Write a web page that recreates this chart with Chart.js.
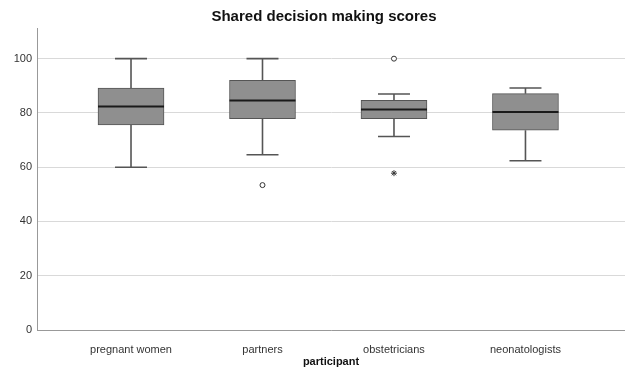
<!DOCTYPE html>
<html>
<head>
<meta charset="utf-8">
<script src="https://cdn.jsdelivr.net/npm/chart.js@4/dist/chart.umd.min.js"></script>
<style>
  html, body { margin: 0; padding: 0; background: #fff; }
  #wrap { width: 625px; height: 369px; }
</style>
</head>
<body>
<div id="wrap"><canvas id="boxChart"></canvas></div>
<script>
const chartTitle = 'Shared decision making scores';
const xTitle = 'participant';
const categories = ['pregnant women', 'partners', 'obstetricians', 'neonatologists'];
const whiskerLow = [60, 64.6, 71.3, 62.4];
const q1 = [75.6, 77.9, 77.9, 73.6];
const median = [82.4, 84.6, 81.3, 80.3];
const q3 = [89.2, 92, 84.6, 87.1];
const whiskerHigh = [100, 100, 87, 89.2];
// outliers: [category index, value]
const outliers = [[1, 53.4], [2, 100]];
const extremes = [[2, 57.8]];
const yTicks = [0, 20, 40, 60, 80, 100];

const FONT = '"Liberation Sans", Arial, sans-serif';

// whiskers, caps, medians and the title, drawn through the chart scales
const boxParts = {
    id: 'boxParts',
    beforeDatasetsDraw(chart) {
        const {ctx, scales: {x, y}} = chart;
        ctx.save();
        ctx.strokeStyle = '#555';
        ctx.lineWidth = 1.6;
        categories.forEach((c, i) => {
            const cx = x.getPixelForValue(i);
            ctx.beginPath();
            ctx.moveTo(cx, y.getPixelForValue(whiskerHigh[i]));
            ctx.lineTo(cx, y.getPixelForValue(q3[i]));
            ctx.moveTo(cx, y.getPixelForValue(q1[i]));
            ctx.lineTo(cx, y.getPixelForValue(whiskerLow[i]));
            ctx.moveTo(cx - 16, y.getPixelForValue(whiskerHigh[i]));
            ctx.lineTo(cx + 16, y.getPixelForValue(whiskerHigh[i]));
            ctx.moveTo(cx - 16, y.getPixelForValue(whiskerLow[i]));
            ctx.lineTo(cx + 16, y.getPixelForValue(whiskerLow[i]));
            ctx.stroke();
        });
        ctx.restore();
    },
    afterDatasetsDraw(chart) {
        const {ctx, scales: {x, y}, chartArea} = chart;
        ctx.save();
        ctx.strokeStyle = '#1a1a1a';
        ctx.lineWidth = 2;
        categories.forEach((c, i) => {
            const cx = x.getPixelForValue(i);
            const my = y.getPixelForValue(median[i]);
            ctx.beginPath();
            ctx.moveTo(cx - 33, my);
            ctx.lineTo(cx + 33, my);
            ctx.stroke();
        });
        ctx.fillStyle = '#111';
        ctx.font = 'bold 15px ' + FONT;
        ctx.textAlign = 'center';
        ctx.textBaseline = 'middle';
        ctx.fillText(chartTitle, (chartArea.left + chartArea.right) / 2 - 7, 17);
        ctx.restore();
    }
};

new Chart(document.getElementById('boxChart').getContext('2d'), {
    type: 'bar',
    data: {
        datasets: [
            {
                type: 'scatter',
                data: outliers.map(o => ({x: o[0], y: o[1]})),
                pointStyle: 'circle',
                radius: 2.5,
                backgroundColor: '#fff',
                borderColor: '#333',
                borderWidth: 1
            },
            {
                type: 'scatter',
                data: extremes.map(o => ({x: o[0], y: o[1]})),
                pointStyle: 'star',
                radius: 3,
                borderColor: '#333',
                borderWidth: 1
            },
            {
                type: 'bar',
                data: categories.map((c, i) => ({x: i, y: [q1[i], q3[i]]})),
                backgroundColor: '#8f8f8f',
                borderColor: '#555',
                borderWidth: 1,
                borderSkipped: false,
                barThickness: 66
            }
        ]
    },
    options: {
        responsive: true,
        maintainAspectRatio: false,
        animation: false,
        layout: { autoPadding: false, padding: { top: 28, left: 0, right: 0, bottom: 0 } },
        plugins: {
            legend: { display: false },
            tooltip: { enabled: false },
            title: { display: false }
        },
        scales: {
            x: {
                type: 'linear',
                min: -0.715,
                max: 3.757,
                offset: false,
                afterBuildTicks: (scale) => { scale.ticks = categories.map((c, i) => ({value: i})); },
                afterFit: (scale) => { scale.height = 39; },
                ticks: {
                    callback: (v) => categories[v],
                    color: '#333',
                    font: { family: FONT, size: 11 },
                    padding: 5,
                    maxRotation: 0,
                    autoSkip: false
                },
                grid: { display: false, offset: false },
                border: { display: true, color: '#999', width: 1 },
                title: {
                    display: true,
                    text: xTitle,
                    color: '#111',
                    font: { family: FONT, size: 11, weight: 'bold' },
                    padding: { top: 0, bottom: 0 }
                }
            },
            y: {
                min: 0,
                max: 111.3,
                afterBuildTicks: (scale) => { scale.ticks = yTicks.map(v => ({value: v})); },
                afterFit: (scale) => { scale.width = 37; },
                ticks: {
                    color: '#333',
                    font: { family: FONT, size: 11 },
                    padding: 5
                },
                grid: { color: '#d9d9d9', lineWidth: 1, drawTicks: false },
                border: { display: true, color: '#999', width: 1 }
            }
        }
    },
    plugins: [boxParts]
});
</script>
</body>
</html>
